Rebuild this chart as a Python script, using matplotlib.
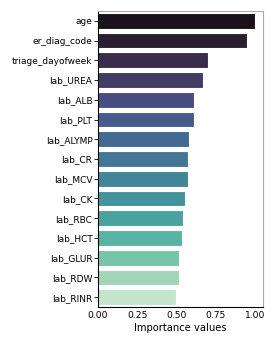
import matplotlib
matplotlib.use('Agg')
import matplotlib.pyplot as plt
import seaborn as sns
import numpy as np

# feature importances
features = ['age', 'er_diag_code', 'triage_dayofweek', 'lab_UREA', 'lab_ALB',
            'lab_PLT', 'lab_ALYMP', 'lab_CR', 'lab_MCV', 'lab_CK', 'lab_RBC',
            'lab_HCT', 'lab_GLUR', 'lab_RDW', 'lab_RINR']
importance = [1.00, 0.95, 0.70, 0.667, 0.61, 0.61, 0.582, 0.571, 0.571,
              0.554, 0.541, 0.533, 0.516, 0.516, 0.495]
xticks = [0.0, 0.25, 0.5, 0.75, 1.0]

plt.rcParams['font.family'] = ['DejaVu Sans']
fig = plt.figure(figsize=(2.74, 3.43), dpi=100)
ax = fig.add_axes([98/274, 1 - 307/343, 165/274, 296/343])

# seaborn barplot desaturates its palette
colors = [sns.desaturate(c, 0.75) for c in sns.color_palette('mako', len(features))]
ypos = np.arange(len(features))
ax.barh(ypos, importance, height=0.8, color=colors, edgecolor='white', linewidth=0.8)
ax.set_yticks(ypos)
ax.set_yticklabels(features, fontsize=6.5)
ax.set_ylim(len(features) - 0.5, -0.5)
ax.set_xlim(0, 1.05)
ax.set_xticks(xticks)
ax.set_xticklabels(['%.2f' % t for t in xticks], fontsize=6.6)
ax.set_xlabel('Importance values', fontsize=7.2, labelpad=2)
ax.tick_params(axis='y', length=3, width=0.6, pad=1)
ax.tick_params(axis='x', length=0, pad=3)
for s in ['top', 'right']:
    ax.spines[s].set_color('#aaaaaa')
for s in ax.spines.values():
    s.set_linewidth(0.8)

fig.savefig('out.png', dpi=100)
